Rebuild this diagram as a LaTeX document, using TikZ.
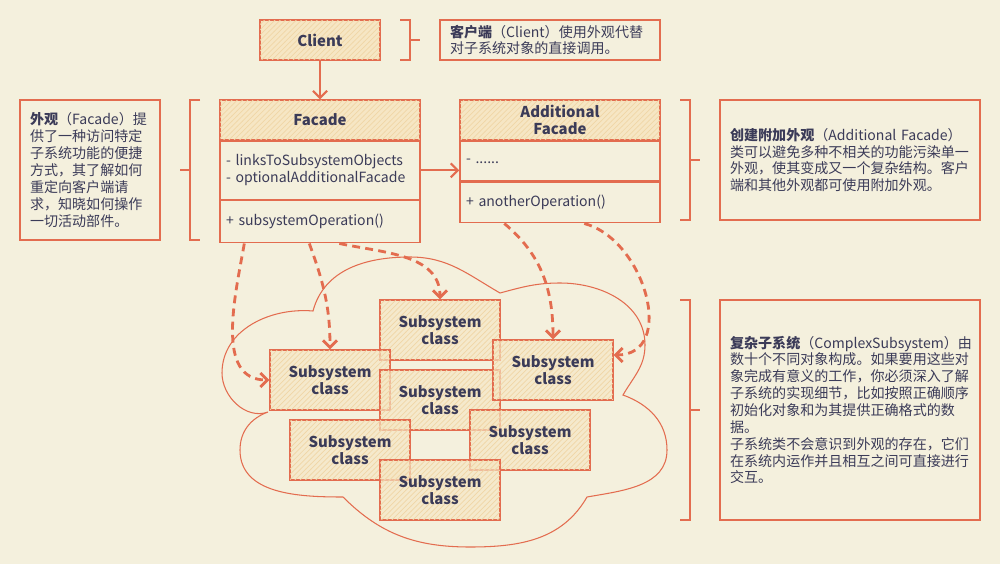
\documentclass[tikz,border=0pt]{standalone}
\usepackage{fontspec}
\setmainfont{Noto Sans CJK SC}
\usetikzlibrary{positioning,arrows.meta,patterns}
\definecolor{Line}{HTML}{E36C4F}
\definecolor{Ink}{HTML}{3B3B58}
\definecolor{Fill}{HTML}{F6E6C4}
\definecolor{Hatch}{HTML}{F0D6A6}
\definecolor{Paper}{HTML}{F4F0DD}
\begin{document}
\begin{tikzpicture}[x=0.02cm,y=-0.02cm,color=Line,
>={Straight Barb[length=4pt,width=8pt]},
nodes={font=\fontsize{8}{9.6}\selectfont,text=Ink,inner sep=0pt},
hatch/.style={fill=Fill,postaction={pattern=north east lines,pattern color=Hatch}},
uml/.style={draw,line width=.8pt,minimum width=4cm,minimum height=#1},
head/.style={uml=.8cm,hatch,font=\fontsize{8.5}{10}\selectfont\bfseries,align=center},
row/.style={uml=#1,text width=3.76cm,align=left},
note/.style={draw,line width=.8pt,minimum height=#1,align=left,inner xsep=.2cm},
sub/.style={draw,line width=.8pt,hatch,fill opacity=.65,text opacity=1,
  minimum width=2.4cm,minimum height=1.2cm,align=center,
  font=\fontsize{8.5}{10}\selectfont\bfseries},
dsh/.style={->,dash pattern=on 4.5pt off 3pt,line width=1.6pt}]
\path[use as bounding box,fill=Paper] (0,0) rectangle (1000,564);

% cloud of the subsystem
\draw[line width=.6pt] (268,412) to[out=200,in=-90] (222,373) to[out=90,in=175] (313,311)
  to[out=75,in=180] (410,257) to[out=0,in=150] (500,293)
  to[out=15,in=180] (560,283) to[out=0,in=90] (645,345) to[out=-90,in=60] (623,395)
  to[out=-20,in=90] (667,450) to[out=-90,in=10] (587,497)
  to[out=-120,in=0] (470,547) to[out=180,in=-45] (343,497)
  to[out=180,in=-90] (240,450) to[out=90,in=200] cycle;

\node[head,minimum width=2.4cm] (client) at (320,40) {Client};
\node[head] (fhead) at (320,120) {Facade};
\node[row=1.16cm,below=0pt of fhead] (fattr) {- linksToSubsystemObjects\\- optionalAdditionalFacade};
\node[row=.84cm,below=0pt of fattr] (fop) {+ subsystemOperation()};
\node[head] (ahead) at (560,120) {Additional\\Facade};
\node[row=.78cm,below=0pt of ahead] (aattr) {- ......};
\node[row=.82cm,below=0pt of aattr] (aop) {+ anotherOperation()};

\node[note=.8cm,text width=4cm] (cnote) at (550,40)
  {\textbf{客户端}（Client）使用外观代替\\对子系统对象的直接调用。};
\node[note=2.8cm,text width=2.4cm] (fnote) at (90,170)
  {\textbf{外观}（Facade）提\\供了一种访问特定\\子系统功能的便捷\\方式，其了解如何\\重定向客户端请\\求，知晓如何操作\\一切活动部件。};
\node[note=2.4cm,text width=4.8cm] (anote) at (850,160)
  {\textbf{创建附加外观}（Additional Facade）\\类可以避免多种不相关的功能污染单一\\外观，使其变成又一个复杂结构。客户\\端和其他外观都可使用附加外观。};
\node[note=4.4cm,text width=4.8cm] (snote) at (850,410)
  {\textbf{复杂子系统}（ComplexSubsystem）由\\数十个不同对象构成。如果要用这些对\\象完成有意义的工作，你必须深入了解\\子系统的实现细节，比如按照正确顺序\\初始化对象和为其提供正确格式的数\\据。\\子系统类不会意识到外观的存在，它们\\在系统内运作并且相互之间可直接进行\\交互。};

\path[nodes=sub]
(440,330) node (sb) {Subsystem\\class}
(330,380) node (sa) {Subsystem\\class}
(440,400) node (sd) {Subsystem\\class}
(553,370) node (sc) {Subsystem\\class}
(350,450) node (sf) {Subsystem\\class}
(530,440) node (se) {Subsystem\\class}
(440,490) node (sg) {Subsystem\\class};

% brackets
\draw[line width=1.2pt] (400,20) -| (410,60) -- (400,60) (410,40) -- (420,40);
\draw[line width=1.2pt] (200,100) -| (190,240) -- (200,240) (190,170) -- (180,170);
\draw[line width=1.2pt] (680,100) -| (690,220) -- (680,220) (690,160) -- (700,160);
\draw[line width=1.2pt] (680,300) -| (690,520) -- (680,520) (690,410) -- (700,410);

\draw[->,line width=1.2pt] (client) -- (fhead);
\draw[->,line width=1.2pt] (fattr.east) -- (fattr.east -| aattr.west);
\draw[dsh] ([xshift=.5cm]fop.south west) to[out=-100,in=180] (sa.west);
\draw[dsh] ([xshift=1.8cm]fop.south west) to[out=-70,in=90] (sa.north);
\draw[dsh] ([xshift=2.4cm]fop.south west) to[out=-12,in=90] (sb.north);
\draw[dsh] ([xshift=.9cm]aop.south west) to[out=-40,in=90] (sc.north);
\draw[dsh] ([xshift=2.5cm]aop.south west) to[out=-15,in=0,looseness=1.2] ([yshift=.3cm]sc.east);
\end{tikzpicture}
\end{document}
